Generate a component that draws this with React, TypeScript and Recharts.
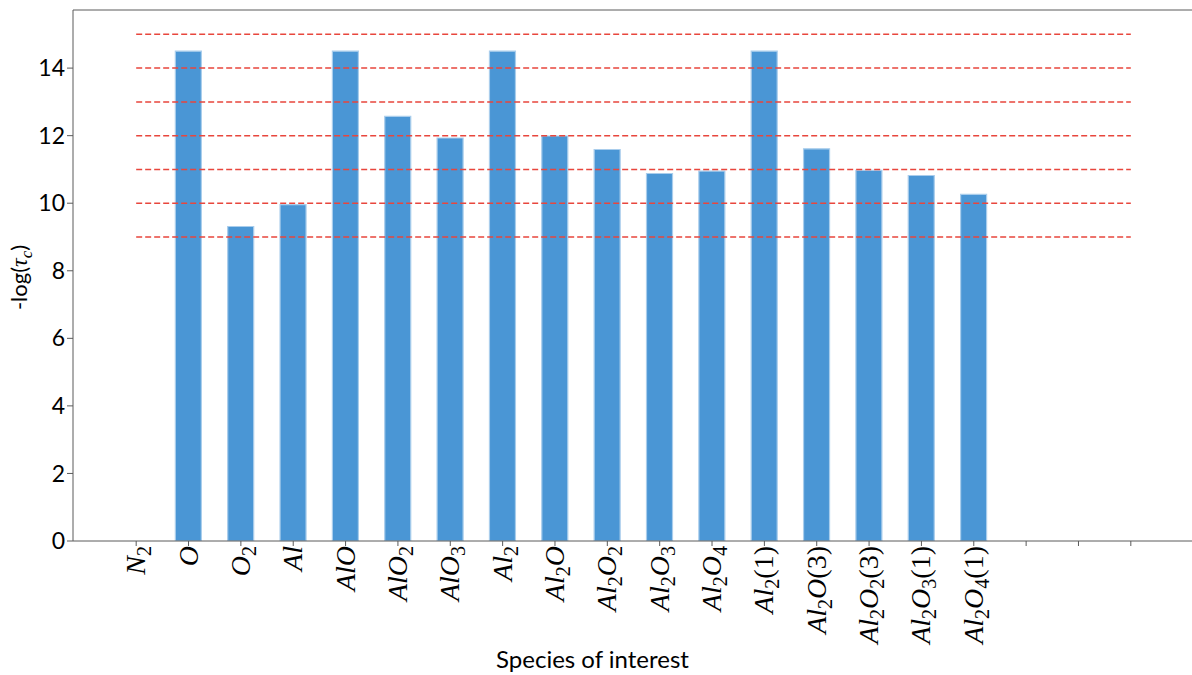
import { BarChart, Bar, XAxis, YAxis, ReferenceLine } from 'recharts';

// species on the x axis ("_n" = subscript); the last three slots are empty ticks
const species = [
    'N_2', 'O', 'O_2', 'Al', 'AlO', 'AlO_2', 'AlO_3', 'Al_2', 'Al_2O', 'Al_2O_2',
    'Al_2O_3', 'Al_2O_4', 'Al_2(1)', 'Al_2O(3)', 'Al_2O_2(3)', 'Al_2O_3(1)', 'Al_2O_4(1)',
    '', '', '',
]

// -log(tau_c) per species
const negLogTau = [
    0, 14.5, 9.31, 9.96, 14.5, 12.57, 11.93, 14.5, 11.99, 11.59,
    10.88, 10.95, 14.5, 11.61, 10.97, 10.82, 10.26,
    null, null, null,
]

// dashed reference levels
const levels = [9, 10, 11, 12, 13, 14, 15]

const yTicks = [0, 2, 4, 6, 8, 10, 12, 14]
const yMax = 15.72

const data = species.map((label, i) => ({ key: `c${i}`, label, value: negLogTau[i] }))
const firstKey = data[0].key
const lastKey = data[data.length - 1].key

const SANS = 'Lato, "Open Sans", sans-serif'
const MATH = '"Liberation Serif", "DejaVu Serif", serif'
const AXIS = '#5a5a5a'

// split "Al_2O_2(3)" into italic letters, upright digits and subscripts
function parseFormula(s: string) {
    const parts: { text: string, kind: 'sym' | 'num' | 'sub' }[] = []
    const re = /_(\d)|([A-Za-z]+)|([()\d]+)/g
    let m
    while ((m = re.exec(s)) !== null) {
        if (m[1]) parts.push({ text: m[1], kind: 'sub' })
        else if (m[2]) parts.push({ text: m[2], kind: 'sym' })
        else parts.push({ text: m[3], kind: 'num' })
    }
    return parts
}

function SpeciesTick({ x, y, payload }: any) {
    const row = data.find(d => d.key === payload.value)
    if (!row || !row.label) return null
    const parts = parseFormula(row.label)
    return (
        <g transform={`translate(${x},${y})`}>
            <text transform="rotate(-90)" x={0} y={9} textAnchor="end" fontFamily={MATH} fontSize={28} fill="#000">
                {parts.map((p, i) => {
                    if (p.kind === 'sub') return <tspan key={i} fontSize={20} baselineShift="-6px">{p.text}</tspan>
                    if (p.kind === 'num') return <tspan key={i}>{p.text}</tspan>
                    return <tspan key={i} fontStyle="italic">{p.text}</tspan>
                })}
            </text>
        </g>
    )
}

function YTitle({ viewBox }: any) {
    const cx = viewBox.x + 14
    const cy = viewBox.y + viewBox.height / 2 + 2
    return (
        <text transform={`translate(${cx},${cy}) rotate(-90)`} textAnchor="middle" fontSize={22} fill="#000" fontFamily={SANS}>
            <tspan>-log(</tspan>
            <tspan fontFamily={MATH} fontStyle="italic" fontSize={24}>τ</tspan>
            <tspan fontFamily={MATH} fontStyle="italic" fontSize={17} baselineShift="-5px">c</tspan>
            <tspan>)</tspan>
        </text>
    )
}

function XTitle({ viewBox }: any) {
    return (
        <text x={viewBox.x + viewBox.width / 2 - 40} y={viewBox.y + viewBox.height - 7}
            textAnchor="middle" fontSize={24} fill="#000" fontFamily={SANS}>
            Species of interest
        </text>
    )
}

export default function App() {
    return (
        <div style={{ position: 'absolute', left: 0, top: 0, width: 1192, height: 675, background: '#fff' }}>
            <BarChart width={1192} height={675} data={data} margin={{ top: 10, right: 0, bottom: 0, left: 13 }}>
                <XAxis
                    dataKey="key"
                    type="category"
                    height={134}
                    padding={{ left: 37, right: 35 }}
                    stroke={AXIS}
                    tickSize={5}
                    tickMargin={0}
                    interval={0}
                    tick={<SpeciesTick />}
                    tickLine={{ stroke: AXIS }}
                    label={<XTitle />}
                />
                <YAxis
                    type="number"
                    domain={[0, yMax]}
                    ticks={yTicks}
                    allowDataOverflow
                    width={60}
                    stroke={AXIS}
                    tickSize={6}
                    tickMargin={2}
                    tick={{ fill: '#000', fontSize: 23, fontFamily: SANS }}
                    label={<YTitle />}
                />
                <ReferenceLine y={yMax} stroke={AXIS} strokeWidth={1} />
                <Bar dataKey="value" fill="#4a96d5" stroke="#a9cdec" strokeWidth={1.2} barSize={26} isAnimationActive={false} />
                {levels.map(v => (
                    <ReferenceLine
                        key={v}
                        segment={[{ x: firstKey, y: v }, { x: lastKey, y: v }]}
                        stroke="#e8463d"
                        strokeWidth={1.5}
                        strokeDasharray="6 3"
                    />
                ))}
            </BarChart>
        </div>
    )
}
